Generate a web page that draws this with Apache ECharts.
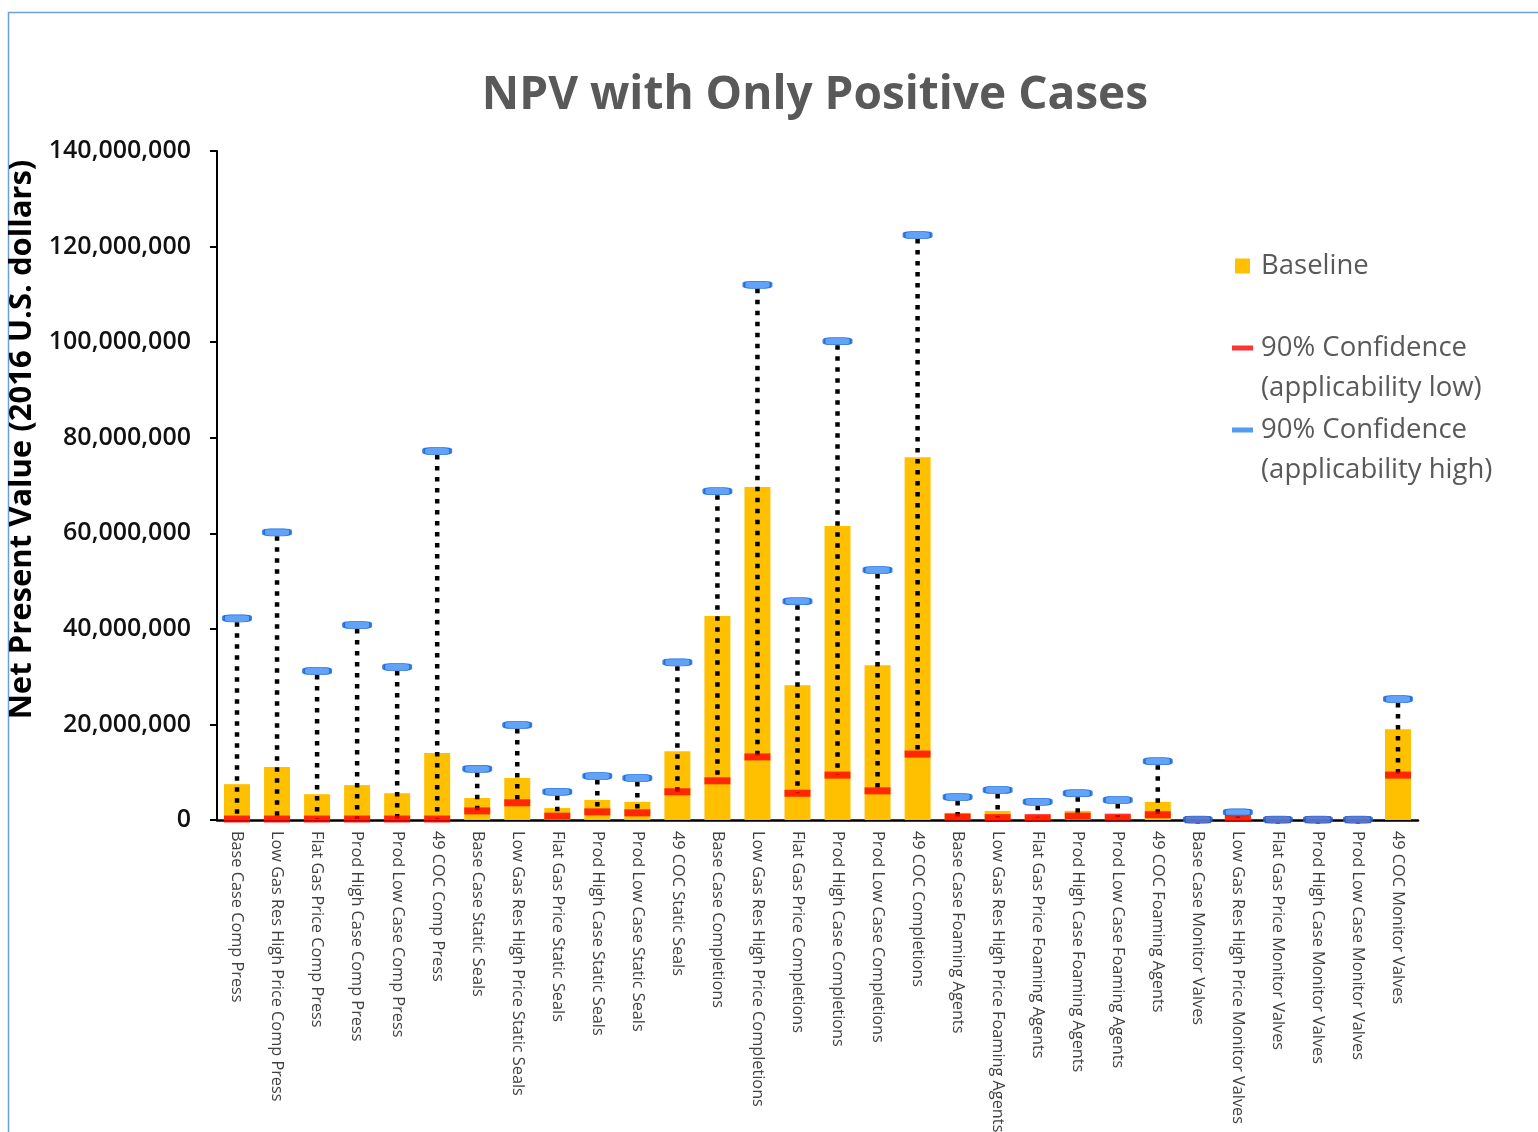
<!DOCTYPE html>
<html>
<head>
<meta charset="utf-8">
<script src="https://cdn.jsdelivr.net/npm/echarts@6/dist/echarts.min.js"></script>
<style>
    html, body { margin: 0; padding: 0; background: #fff; }
    #npvChart { width: 1538px; height: 1132px; }
</style>
</head>
<body>
<div id="npvChart"></div>
<script>
    var categories = [
        'Base Case Comp Press', 'Low Gas Res High Price Comp Press', 'Flat Gas Price Comp Press',
        'Prod High Case Comp Press', 'Prod Low Case Comp Press', '49 COC Comp Press',
        'Base Case Static Seals', 'Low Gas Res High Price Static Seals', 'Flat Gas Price Static Seals',
        'Prod High Case Static Seals', 'Prod Low Case Static Seals', '49 COC Static Seals',
        'Base Case Completions', 'Low Gas Res High Price Completions', 'Flat Gas Price Completions',
        'Prod High Case Completions', 'Prod Low Case Completions', '49 COC Completions',
        'Base Case Foaming Agents', 'Low Gas Res High Price Foaming Agents', 'Flat Gas Price Foaming Agents',
        'Prod High Case Foaming Agents', 'Prod Low Case Foaming Agents', '49 COC Foaming Agents',
        'Base Case Monitor Valves', 'Low Gas Res High Price Monitor Valves', 'Flat Gas Price Monitor Valves',
        'Prod High Case Monitor Valves', 'Prod Low Case Monitor Valves', '49 COC Monitor Valves'
    ];

    // baseline NPV (bars)
    var baseline = [
        7500000, 11100000, 5400000, 7300000, 5600000, 14000000,
        4600000, 8800000, 2500000, 4200000, 3800000, 14400000,
        42700000, 69700000, 28200000, 61500000, 32400000, 75900000,
        1500000, 1900000, 1000000, 1900000, 1000000, 3800000,
        50000, 900000, 50000, 50000, 50000, 19000000
    ];

    // 90% confidence, applicability low (red)
    var confLow = [
        200000, 200000, 200000, 200000, 200000, 200000,
        1900000, 3600000, 800000, 1700000, 1500000, 5900000,
        8200000, 13200000, 5600000, 9400000, 6100000, 13800000,
        600000, 500000, 500000, 800000, 600000, 1100000,
        50000, 400000, 50000, 50000, 50000, 9400000
    ];

    // 90% confidence, applicability high (blue)
    var confHigh = [
        42200000, 60200000, 31200000, 40800000, 32000000, 77200000,
        10700000, 19900000, 5900000, 9200000, 8800000, 33000000,
        68800000, 112000000, 45800000, 100200000, 52300000, 122400000,
        4800000, 6300000, 3800000, 5600000, 4200000, 12300000,
        100000, 1600000, 100000, 100000, 100000, 25300000
    ];

    var yTicks = { min: 0, max: 140000000, interval: 20000000 };

    var fontFamily = "'Open Sans', sans-serif";
    // line icon sitting on the first text line of a two-line legend entry
    var topLineIcon = 'path://M0,0H21V5H0Z M0,45L0,45';

    var chart = echarts.init(document.getElementById('npvChart'));

    var legendText = { fontFamily: fontFamily, fontSize: 27.5, color: '#595959', lineHeight: 40 };

    var option = {
        backgroundColor: '#fff',
        animation: false,
        title: {
            text: 'NPV with Only Positive Cases',
            left: 815,
            top: 73,
            padding: 0,
            textAlign: 'center',
            textStyle: {
                fontFamily: fontFamily,
                fontSize: 46,
                fontWeight: 'bold',
                color: '#595959'
            }
        },
        graphic: [{
            type: 'rect',
            silent: true,
            shape: { x: 8.5, y: 12.5, width: 1700, height: 1300 },
            style: { fill: 'none', stroke: '#6b9fd8', lineWidth: 1.5 }
        }],
        legend: [{
            data: [{ name: 'Baseline', icon: 'rect' }],
            left: 1230,
            top: 241,
            itemWidth: 15,
            itemHeight: 15,
            selectedMode: false,
            textStyle: Object.assign({ padding: [0, 0, 0, 6] }, legendText)
        }, {
            data: [{ name: '90% Confidence (applicability low)', icon: topLineIcon, itemStyle: { color: '#ff0000', borderWidth: 0 } }],
            left: 1227,
            top: 323,
            itemWidth: 21,
            itemHeight: 45,
            symbolKeepAspect: false,
            selectedMode: false,
            formatter: function () { return '90% Confidence\n(applicability low)'; },
            textStyle: Object.assign({ padding: [0, 0, 0, 3] }, legendText)
        }, {
            data: [{ name: '90% Confidence (applicability high)', icon: topLineIcon, itemStyle: { color: '#2a7ff0', borderWidth: 0 } }],
            left: 1227,
            top: 405,
            itemWidth: 21,
            itemHeight: 45,
            symbolKeepAspect: false,
            selectedMode: false,
            formatter: function () { return '90% Confidence\n(applicability high)'; },
            textStyle: Object.assign({ padding: [0, 0, 0, 3] }, legendText)
        }],
        grid: {
            left: 217,
            right: 120,
            top: 151,
            bottom: 312,
            containLabel: false,
            outerBoundsMode: 'none'
        },
        xAxis: {
            type: 'category',
            data: categories,
            axisLine: { lineStyle: { color: '#000', width: 2.5 } },
            axisTick: { show: false },
            axisLabel: {
                interval: 0,
                rotate: -90,
                margin: 11,
                fontFamily: fontFamily,
                fontSize: 16.3,
                color: '#404040'
            }
        },
        yAxis: {
            type: 'value',
            min: yTicks.min,
            max: yTicks.max,
            interval: yTicks.interval,
            name: 'Net Present Value (2016 U.S. dollars)',
            nameLocation: 'middle',
            nameRotate: 90,
            nameGap: 165,
            nameTextStyle: {
                fontFamily: fontFamily,
                fontSize: 31,
                fontWeight: 'bold',
                color: '#000',
                padding: [0, 0, 0, 92]
            },
            splitLine: { show: false },
            axisLine: { show: true, lineStyle: { color: '#000', width: 2 } },
            axisTick: { show: true, length: 7, lineStyle: { color: '#000', width: 2 } },
            axisLabel: {
                margin: 26,
                fontFamily: fontFamily,
                fontSize: 25,
                fontWeight: 600,
                color: '#111',
                formatter: function (v) { return v.toLocaleString('en-US'); }
            }
        },
        series: [{
            name: 'Baseline',
            type: 'bar',
            data: baseline,
            barWidth: 26,
            itemStyle: { color: '#ffc000' },
            z: 2
        }, {
            name: 'range',
            type: 'custom',
            data: categories.map(function (c, i) { return [i, confLow[i], confHigh[i]]; }),
            encode: { x: 0, y: [1, 2] },
            renderItem: function (params, api) {
                var hi = api.coord([api.value(0), api.value(2)]);
                var lo = api.coord([api.value(0), api.value(1)]);
                return {
                    type: 'line',
                    shape: { x1: hi[0], y1: hi[1] + 4, x2: lo[0], y2: lo[1] },
                    style: { stroke: '#000', lineWidth: 4.5, lineDash: [4.5, 6.5], fill: null }
                };
            },
            z: 3
        }, {
            name: '90% Confidence (applicability low)',
            type: 'scatter',
            data: confLow,
            symbol: 'rect',
            symbolSize: [26, 7],
            itemStyle: { color: '#ff0000' },
            z: 4
        }, {
            name: '90% Confidence (applicability high)',
            type: 'scatter',
            data: confHigh,
            symbol: 'roundRect',
            symbolSize: [27, 7],
            itemStyle: { color: '#3b8bf5', borderColor: '#0f62d8', borderWidth: 1.5 },
            z: 5
        }]
    };

    chart.setOption(option);

    window.addEventListener('resize', function () {
        chart.resize();
    });
</script>
</body>
</html>
